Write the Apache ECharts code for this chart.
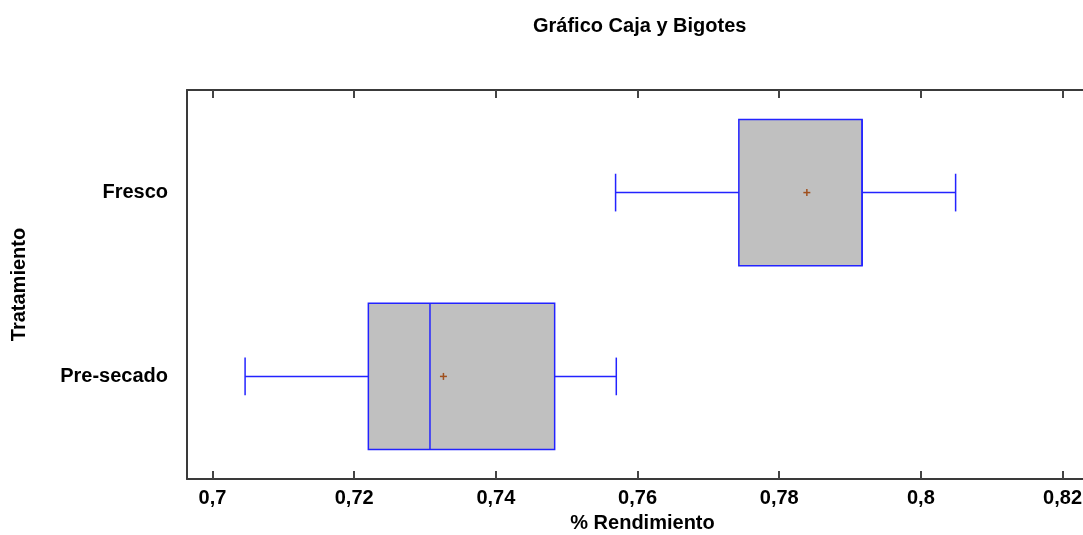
<!DOCTYPE html>
<html>
<head>
<meta charset="utf-8">
<script src="https://cdn.jsdelivr.net/npm/echarts@6/dist/echarts.min.js"></script>
<style>
html,body{margin:0;padding:0;background:#fff;}
#chart{width:1083px;height:535px;}
</style>
</head>
<body>
<div id="chart"></div>
<script>
// ---- data ----
const categories = ['Fresco', 'Pre-secado'];
const minVals    = [0.7569, 0.7046];
const q1Vals     = [0.7743, 0.7220];
const medianVals = [0.7917, 0.7307];
const q3Vals     = [0.7917, 0.7483];
const maxVals    = [0.8049, 0.7570];
const meanVals   = [0.7839, 0.7326];
const xTicks     = [0.7, 0.72, 0.74, 0.76, 0.78, 0.8, 0.82];
const catPositions = [1, 2];

const FONT = '"Liberation Sans", Arial, sans-serif';
const chart = echarts.init(document.getElementById('chart'), null, {renderer: 'canvas'});

const seriesData = categories.map((c, i) => [
  catPositions[i], minVals[i], q1Vals[i], medianVals[i], q3Vals[i], maxVals[i], meanVals[i]
]);

const BLUE = '#2323ff';
function renderItem(params, api) {
  const y = api.value(0);
  const vMin = api.value(1), vQ1 = api.value(2), vMed = api.value(3),
        vQ3 = api.value(4), vMax = api.value(5), vMean = api.value(6);
  const unit = api.size([0, 1])[1];
  const boxH = unit * 0.796;
  const capH = unit * 0.205;
  const pMin = api.coord([vMin, y]), pQ1 = api.coord([vQ1, y]), pMed = api.coord([vMed, y]),
        pQ3 = api.coord([vQ3, y]), pMax = api.coord([vMax, y]), pMean = api.coord([vMean, y]);
  const cy = pQ1[1];
  const ls = {stroke: BLUE, lineWidth: 1.5, fill: null};
  const m = 3.5;
  return {
    type: 'group',
    children: [
      {type: 'line', shape: {x1: pMin[0], y1: cy, x2: pQ1[0], y2: cy}, style: ls},
      {type: 'line', shape: {x1: pQ3[0], y1: cy, x2: pMax[0], y2: cy}, style: ls},
      {type: 'line', shape: {x1: pMin[0], y1: cy - capH / 2, x2: pMin[0], y2: cy + capH / 2}, style: ls},
      {type: 'line', shape: {x1: pMax[0], y1: cy - capH / 2, x2: pMax[0], y2: cy + capH / 2}, style: ls},
      {type: 'rect', shape: {x: pQ1[0], y: cy - boxH / 2, width: pQ3[0] - pQ1[0], height: boxH},
        style: {fill: '#c0c0c0', stroke: BLUE, lineWidth: 1.5}},
      {type: 'line', shape: {x1: pMed[0], y1: cy - boxH / 2, x2: pMed[0], y2: cy + boxH / 2}, style: ls},
      {type: 'line', shape: {x1: pMean[0] - m, y1: cy, x2: pMean[0] + m, y2: cy},
        style: {stroke: '#a0501e', lineWidth: 1.5}},
      {type: 'line', shape: {x1: pMean[0], y1: cy - m, x2: pMean[0], y2: cy + m},
        style: {stroke: '#a0501e', lineWidth: 1.5}}
    ]
  };
}

const fmt = v => String(v).replace('.', ',');
const AXLINE = {show: true, lineStyle: {color: '#3a3a3a', width: 2}};

chart.setOption({
  animation: false,
  backgroundColor: '#fff',
  title: {
    text: 'Gráfico Caja y Bigotes',
    left: 528, top: 11,
    textStyle: {fontFamily: FONT, fontSize: 20, fontWeight: 'bold', color: '#000'}
  },
  grid: {
    left: 187, top: 90, width: 911, height: 389,
    outerBoundsMode: 'none', containLabel: false,
    show: false
  },
  xAxis: [{
    type: 'value', min: 0.6964, max: 0.825, position: 'bottom',
    name: '% Rendimiento', nameLocation: 'middle', nameGap: 34,
    nameTextStyle: {fontFamily: FONT, fontSize: 20, fontWeight: 'bold', color: '#000'},
    axisLine: AXLINE,
    axisTick: {show: true, inside: true, length: 8, customValues: xTicks, lineStyle: {color: '#444', width: 2}},
    axisLabel: {customValues: xTicks, formatter: fmt, margin: 9,
      fontFamily: FONT, fontSize: 20, fontWeight: 'bold', color: '#000'},
    splitLine: {show: false}
  }, {
    type: 'value', min: 0.6964, max: 0.825, position: 'top',
    axisLine: AXLINE,
    axisTick: {show: true, inside: true, length: 8, customValues: xTicks, lineStyle: {color: '#444', width: 2}},
    axisLabel: {show: false},
    splitLine: {show: false}
  }],
  yAxis: {
    type: 'value', min: 0.442, max: 2.558, inverse: true, position: 'left',
    name: 'Tratamiento', nameLocation: 'middle', nameGap: 158, nameRotate: 90,
    nameTextStyle: {fontFamily: FONT, fontSize: 20, fontWeight: 'bold', color: '#000'},
    axisLine: AXLINE,
    axisTick: {show: false},
    axisLabel: {customValues: catPositions, formatter: v => categories[Math.round(v) - 1],
      margin: 19, fontFamily: FONT, fontSize: 20, fontWeight: 'bold', color: '#000'},
    splitLine: {show: false}
  },
  series: [{
    type: 'custom',
    xAxisIndex: 0, yAxisIndex: 0,
    renderItem: renderItem,
    encode: {x: [1, 2, 3, 4, 5, 6], y: 0},
    data: seriesData,
    clip: false
  }]
});
</script>
</body>
</html>
